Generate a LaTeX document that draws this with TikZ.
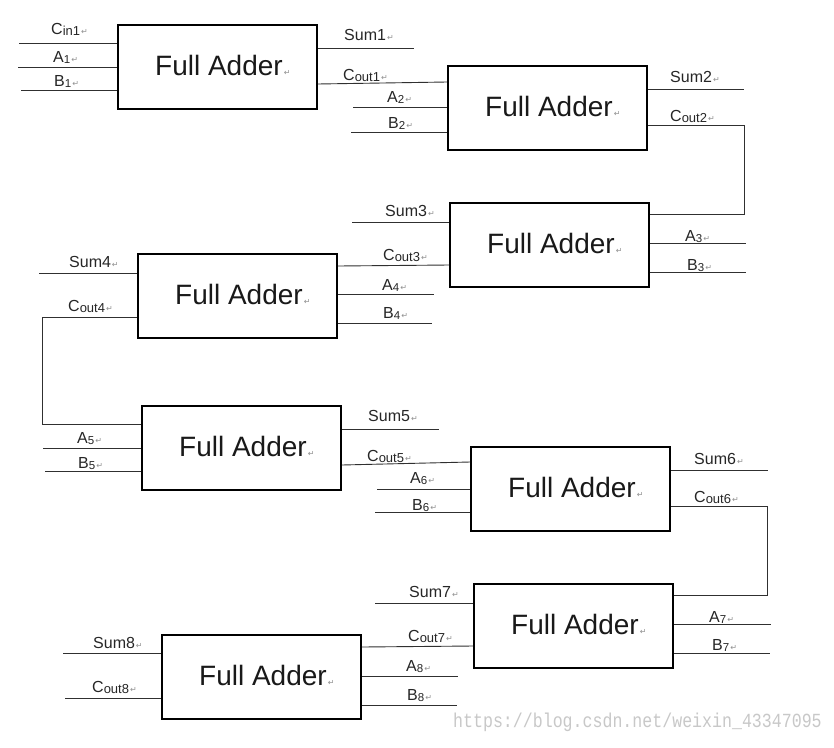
\documentclass[tikz,border=0pt]{standalone}
\usepackage{fontspec}
\setmainfont{Liberation Sans}
\newfontfamily\retfont{DejaVu Sans}
\newfontfamily\wmfont{Liberation Mono}
\usetikzlibrary{calc}
\definecolor{wirecol}{HTML}{303030}
\definecolor{retcol}{HTML}{909090}
\definecolor{wmcol}{HTML}{C8C8C8}
\newcommand\ret{\hspace{1pt}{\retfont\color{retcol}\fontsize{8}{8}\selectfont ↵}}
\newcommand\sbs[1]{{\fontsize{11.5}{11.5}\selectfont\raisebox{-1.5pt}{#1}}}
\newcommand\sbc[1]{{\fontsize{13}{13}\selectfont\raisebox{-1pt}{#1}}}
\tikzset{
  fabox/.style={draw=black, line width=1.8pt, rectangle, minimum width=199pt, minimum height=84pt, inner sep=0pt, anchor=north west},
  fatext/.style={inner sep=0pt, anchor=base west, font=\fontsize{28}{28}\selectfont, text=black!90},
  lab/.style={inner sep=0pt, anchor=base west, font=\fontsize{16}{16}\selectfont, text=black!85},
  wire/.style={draw=wirecol, line width=0.9pt},
}
% box: name, x, y (top-left, y down)
\newcommand\fa[3]{%
  \node[fabox] (b#1) at (#2,#3) {};
  \node[fatext] (t#1) at (#2+38,#3+51.5) {Full Adder\ret};
}
% wire into west side: box, y, free x, coordinate name
\newcommand\win[4]{\coordinate (#4) at (#3,#2); \draw[wire] (#1.west |- #4) -- (#4);}
\newcommand\wout[4]{\coordinate (#4) at (#3,#2); \draw[wire] (#1.east |- #4) -- (#4);}
\newcommand\lab[4]{\node[lab] (#1) at (#2,#3) {#4\ret};}
\begin{document}
\begin{tikzpicture}[x=1pt,y=-1pt]
\useasboundingbox (0,0) rectangle (834,747);
\fill[white] (0,0) rectangle (834,747);

\fa{1}{117}{24}
\fa{2}{447}{65}
\fa{3}{449}{202}
\fa{4}{137}{253}
\fa{5}{141}{405}
\fa{6}{470}{446}
\fa{7}{473}{583}
\fa{8}{161}{634}

% Box 1
\win{b1}{43}{19}{cin1}
\win{b1}{67}{18}{a1}
\win{b1}{90}{21}{bb1}
\wout{b1}{48}{414}{s1}
\draw[wire] (b1.east |- 0,84) -- (b2.west |- 0,82);
\lab{lcin1}{51}{34}{C\sbc{in1}}
\lab{la1}{53}{62}{A\sbs{1}}
\lab{lb1}{54}{86}{B\sbs{1}}
\lab{ls1}{344}{40}{Sum1}
\lab{lc1}{343}{80}{C\sbc{out1}}

% Box 2
\win{b2}{107}{353}{a2}
\win{b2}{132}{351}{bb2}
\wout{b2}{89}{744}{s2}
\draw[wire] (b2.east |- 0,125) -- (744,125) -- (744,214) -- (b3.east |- 0,214);
\lab{la2}{387}{102}{A\sbs{2}}
\lab{lb2}{388}{128}{B\sbs{2}}
\lab{ls2}{670}{82}{Sum2}
\lab{lc2}{670}{121}{C\sbc{out2}}

% Box 3
\win{b3}{222}{352}{s3}
\wout{b3}{243}{746}{a3}
\wout{b3}{272}{746}{bb3}
\draw[wire] (b3.west |- 0,265) -- (b4.east |- 0,266);
\lab{ls3}{385}{216}{Sum3}
\lab{lc3}{383}{260}{C\sbc{out3}}
\lab{la3}{685}{241}{A\sbs{3}}
\lab{lb3}{687}{270}{B\sbs{3}}

% Box 4
\wout{b4}{294}{434}{a4}
\wout{b4}{323}{432}{bb4}
\win{b4}{273}{39}{s4}
\draw[wire] (b4.west |- 0,317) -- (42,317) -- (42,424) -- (b5.west |- 0,424);
\lab{la4}{382}{290}{A\sbs{4}}
\lab{lb4}{383}{318}{B\sbs{4}}
\lab{ls4}{69}{267}{Sum4}
\lab{lc4}{68}{311}{C\sbc{out4}}

% Box 5
\win{b5}{448}{43}{a5}
\win{b5}{471}{45}{bb5}
\wout{b5}{429}{439}{s5}
\draw[wire] (b5.east |- 0,465) -- (b6.west |- 0,462);
\lab{la5}{77}{443}{A\sbs{5}}
\lab{lb5}{78}{468}{B\sbs{5}}
\lab{ls5}{368}{421}{Sum5}
\lab{lc5}{367}{461}{C\sbc{out5}}

% Box 6
\win{b6}{489}{377}{a6}
\win{b6}{512}{375}{bb6}
\wout{b6}{470}{768}{s6}
\draw[wire] (b6.east |- 0,506) -- (767,506) -- (767,595) -- (b7.east |- 0,595);
\lab{la6}{410}{483}{A\sbs{6}}
\lab{lb6}{412}{510}{B\sbs{6}}
\lab{ls6}{694}{464}{Sum6}
\lab{lc6}{694}{502}{C\sbc{out6}}

% Box 7
\win{b7}{603}{375}{s7}
\wout{b7}{624}{771}{a7}
\wout{b7}{653}{770}{bb7}
\draw[wire] (b7.west |- 0,646) -- (b8.east |- 0,647);
\lab{ls7}{409}{597}{Sum7}
\lab{lc7}{408}{641}{C\sbc{out7}}
\lab{la7}{709}{622}{A\sbs{7}}
\lab{lb7}{712}{650}{B\sbs{7}}

% Box 8
\win{b8}{653}{63}{s8}
\win{b8}{698}{65}{c8}
\wout{b8}{676}{458}{a8}
\wout{b8}{705}{457}{bb8}
\lab{ls8}{93}{648}{Sum8}
\lab{lc8}{92}{692}{C\sbc{out8}}
\lab{la8}{406}{671}{A\sbs{8}}
\lab{lb8}{407}{700}{B\sbs{8}}

% watermark
\node[inner sep=0pt, anchor=base west, xscale=0.83, font=\wmfont\fontsize{20}{20}\selectfont, text=wmcol] (wm) at (453,727) {https://blog.csdn.net/weixin\_43347095};
\end{tikzpicture}
\end{document}
